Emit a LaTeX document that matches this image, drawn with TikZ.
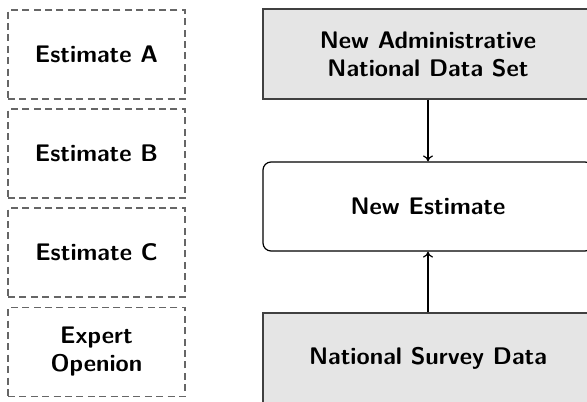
\documentclass[tikz,border=0pt]{standalone}
\usetikzlibrary{arrows.meta}
\begin{document}
\begin{tikzpicture}[x=0.5pt,y=-0.5pt,
  txt/.style={font=\sffamily\bfseries\large, align=center, inner sep=0pt},
  leftbox/.style={txt, draw=black!60, line width=0.6pt, dash pattern=on 3.5pt off 2.2pt,
    minimum width=88.5pt, minimum height=44.5pt},
  databox/.style={txt, draw=black!75, fill=black!10, line width=0.6pt,
    minimum width=165pt, minimum height=45pt},
  estbox/.style={txt, draw=black, fill=white, line width=0.6pt, rounded corners=4pt,
    minimum width=165pt, minimum height=44.5pt},
  conn/.style={line width=0.6pt, -{To[length=3pt,width=5pt]}}]
\useasboundingbox (0,0) rectangle (587,401);
\clip (0,0) rectangle (587,401);
\node[leftbox] (ea) at (96.5,54.5) {Estimate A};
\node[leftbox] (eb) at (96.5,153.5) {Estimate B};
\node[leftbox] (ec) at (96.5,252.5) {Estimate C};
\node[leftbox] (eo) at (96.5,352) {Expert\\Openion};
\node[databox] (adm) at (428,54) {New Administrative\\National Data Set};
\node[estbox] (new) at (428,206.5) {New Estimate};
\node[databox] (sur) at (428,358) {National Survey Data};
\draw[conn] (adm) -- (new);
\draw[conn] (sur) -- (new);
\end{tikzpicture}
\end{document}
